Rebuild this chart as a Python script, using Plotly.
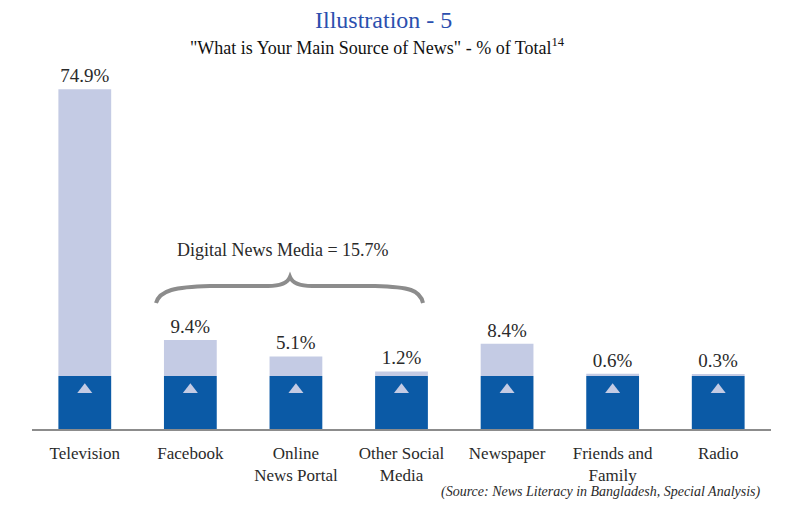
import plotly.graph_objects as go

# ---- data ----
categories = ["Television", "Facebook", "Online<br>News Portal", "Other Social<br>Media",
              "Newspaper", "Friends and<br>Family", "Radio"]
share_pct = [74.9, 9.4, 5.1, 1.2, 8.4, 0.6, 0.3]
digital_total_label = "Digital News Media = 15.7%"

# ---- styling / layout constants ----
W, H = 800, 509
ML, MR, MT, MB = 32, 29, 80, 80
PLOT_W = W - ML - MR
PLOT_H = H - MT - MB
Y_MAX = 91.17
BASE = 13.85          # decorative dark block under each bar (axis units)
DARK = "#0B5AA6"
LIGHT = "#C4CBE4"
TEXT = "#2A2A2A"
SERIF = "Liberation Serif, Times New Roman, serif"


def px(x):
    return (x - ML) / PLOT_W


def py(y):
    return (H - MB - y) / PLOT_H


fig = go.Figure()
fig.add_trace(go.Bar(x=categories, y=[BASE] * len(categories), marker_color=DARK,
                     marker_line_width=0, hoverinfo="skip", showlegend=False))
fig.add_trace(go.Bar(x=categories, y=share_pct, base=BASE, marker_color=LIGHT,
                     marker_line_width=0, showlegend=False,
                     text=[f"{v:.1f}%" for v in share_pct], textposition="outside",
                     textfont=dict(family=SERIF, size=19, color=TEXT), cliponaxis=False))
fig.add_trace(go.Scatter(x=categories, y=[BASE * 0.74] * len(categories), mode="markers",
                         marker=dict(symbol="triangle-up", size=13, color=LIGHT),
                         hoverinfo="skip", showlegend=False))

# curly brace over digital media bars (pixel path converted to paper coords)
pts = [("M", 156, 303), ("C", 160, 290), ("", 175, 287), ("", 210, 286), ("L", 268, 286),
       ("C", 282, 286), ("", 288, 282), ("", 290, 277), ("C", 292, 282), ("", 298, 286),
       ("", 312, 286), ("L", 375, 286), ("C", 410, 287), ("", 420, 290), ("", 423, 303)]
path = " ".join(f"{c} {px(x):.5f},{py(y):.5f}" if c else f"{px(x):.5f},{py(y):.5f}" for c, x, y in pts)
fig.add_shape(type="path", path=path, xref="paper", yref="paper",
              line=dict(color="#8C8C8C", width=4))


def note(x, y, text, size, color, xanchor="center", italic=False):
    fig.add_annotation(x=px(x), y=py(y), xref="paper", yref="paper", showarrow=False,
                       xanchor=xanchor, yanchor="middle", text=text,
                       font=dict(family=SERIF, size=size, color=color,
                                 style="italic" if italic else "normal"))


note(383, 20, "Illustration - 5", 24, "#2B4FAE")
note(377, 47, '"What is Your Main Source of News" - % of Total<sup>14</sup>', 18, "#111111")
note(283, 250, digital_total_label, 18, TEXT)
note(763, 492, "(Source: News Literacy in Bangladesh, Special Analysis)", 14, TEXT,
     xanchor="right", italic=True)

fig.update_layout(
    width=W, height=H, margin=dict(l=ML, r=MR, t=MT, b=MB),
    barmode="overlay", bargap=0.5,
    paper_bgcolor="white", plot_bgcolor="white",
    xaxis=dict(showline=True, linecolor="#8C8C8C", linewidth=1.5, showgrid=False,
               ticks="", ticklabelstandoff=8,
               tickfont=dict(family=SERIF, size=17, color=TEXT)),
    yaxis=dict(range=[0, Y_MAX], visible=False, showgrid=False, zeroline=False),
)

fig.write_html("out.html")
